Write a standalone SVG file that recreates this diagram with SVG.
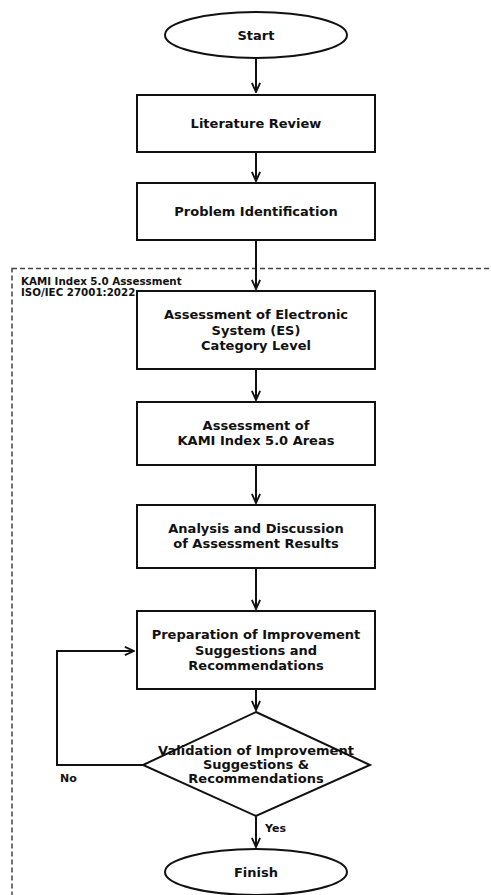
<svg xmlns="http://www.w3.org/2000/svg" width="491" height="895" viewBox="0 0 491 895">
<style>
.s{fill:#fff;stroke:#111;stroke-width:2}
.t{font-family:"DejaVu Sans",sans-serif;font-weight:bold;font-size:13px;fill:#111;text-anchor:middle}
.c{fill:none;stroke:#111;stroke-width:2}
.l{font-family:"DejaVu Sans",sans-serif;font-weight:bold;font-size:11px;fill:#111}
.k{font-family:"DejaVu Sans",sans-serif;font-weight:bold;font-size:10.3px;fill:#111}
</style>
<defs>
<marker id="a" viewBox="0 0 12 12" refX="11" refY="6" markerWidth="11" markerHeight="11" orient="auto" markerUnits="userSpaceOnUse">
<path d="M1,1.5 L11,6 L1,10.5" fill="none" stroke="#111" stroke-width="2"/>
</marker>
</defs>
<rect width="491" height="895" fill="#fff"/>
<g id="cluster">
<rect x="12" y="268.5" width="500" height="650" fill="none" stroke="#444" stroke-width="1.5" stroke-dasharray="5,3"/>
<text class="k" x="21" y="285">KAMI Index 5.0 Assessment</text>
<text class="k" x="21" y="296">ISO/IEC 27001:2022</text>
</g>
<g id="connectors">
<line class="c" x1="256" y1="58" x2="256" y2="92" marker-end="url(#a)"/>
<line class="c" x1="256" y1="152" x2="256" y2="181" marker-end="url(#a)"/>
<line class="c" x1="256" y1="240" x2="256" y2="289" marker-end="url(#a)"/>
<line class="c" x1="256" y1="369" x2="256" y2="400" marker-end="url(#a)"/>
<line class="c" x1="256" y1="465" x2="256" y2="503" marker-end="url(#a)"/>
<line class="c" x1="256" y1="568" x2="256" y2="609" marker-end="url(#a)"/>
<line class="c" x1="256" y1="689" x2="256" y2="710" marker-end="url(#a)"/>
<polyline class="c" points="143,765 57,765 57,651 134,651" marker-end="url(#a)"/>
<line class="c" x1="256" y1="816" x2="256" y2="847" marker-end="url(#a)"/>
<text class="l" x="60" y="782">No</text>
<text class="l" x="265" y="832">Yes</text>
</g>
<g id="start">
<ellipse class="s" cx="256" cy="35" rx="91" ry="23"/>
<text class="t" x="256" y="40">Start</text>
</g>
<g id="lit">
<rect class="s" x="137" y="95" width="238" height="57"/>
<text class="t" x="256" y="128">Literature Review</text>
</g>
<g id="prob">
<rect class="s" x="137" y="183" width="238" height="57"/>
<text class="t" x="256" y="216">Problem Identification</text>
</g>
<g id="es">
<rect class="s" x="137" y="291" width="238" height="78"/>
<text class="t" x="256" y="319">Assessment of Electronic</text>
<text class="t" x="256" y="334.5">System (ES)</text>
<text class="t" x="256" y="350">Category Level</text>
</g>
<g id="kami">
<rect class="s" x="137" y="402" width="238" height="63"/>
<text class="t" x="256" y="430">Assessment of</text>
<text class="t" x="256" y="445">KAMI Index 5.0 Areas</text>
</g>
<g id="analysis">
<rect class="s" x="137" y="505" width="238" height="63"/>
<text class="t" x="256" y="533">Analysis and Discussion</text>
<text class="t" x="256" y="548">of Assessment Results</text>
</g>
<g id="prep">
<rect class="s" x="137" y="611" width="238" height="78"/>
<text class="t" x="256" y="639">Preparation of Improvement</text>
<text class="t" x="256" y="654.5">Suggestions and</text>
<text class="t" x="256" y="670">Recommendations</text>
</g>
<g id="valid">
<polygon class="s" points="256,712 370,765 256,816 143,765"/>
<text class="t" x="256" y="755">Validation of Improvement</text>
<text class="t" x="256" y="769">Suggestions &amp;</text>
<text class="t" x="256" y="783">Recommendations</text>
</g>
<g id="finish">
<ellipse class="s" cx="256" cy="872" rx="91" ry="23"/>
<text class="t" x="256" y="877">Finish</text>
</g>
</svg>
